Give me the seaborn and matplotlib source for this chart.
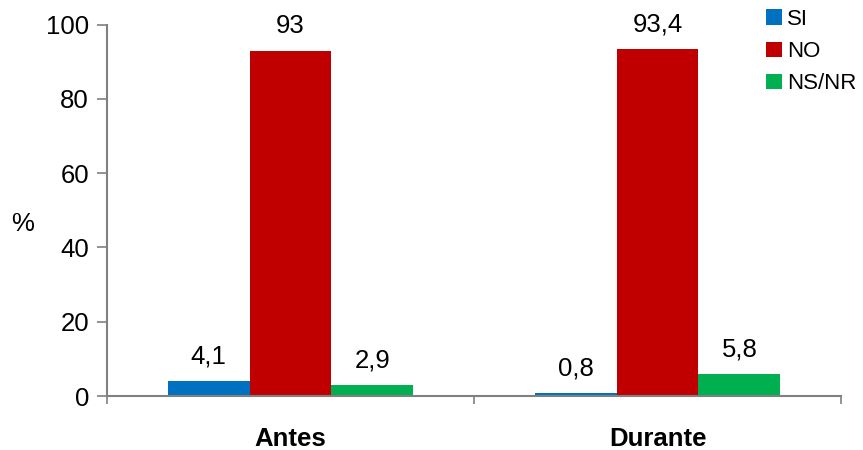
import matplotlib
matplotlib.use("Agg")
import matplotlib.pyplot as plt
import seaborn as sns
import pandas as pd
from matplotlib.patches import Patch
from matplotlib.ticker import FixedLocator

periodos = ["Antes", "Durante"]
respuestas = ["SI", "NO", "NS/NR"]
si = [4.1, 0.8]
no = [93.0, 93.4]
nsnr = [2.9, 5.8]
colores = ["#0070C0", "#C00000", "#00B050"]

rows = []
for serie, vals in zip(respuestas, [si, no, nsnr]):
    for p, v in zip(periodos, vals):
        rows.append({"periodo": p, "respuesta": serie, "valor": v})
df = pd.DataFrame(rows)

sns.set_theme(style="white")
plt.rcParams["font.family"] = ["Liberation Sans", "DejaVu Sans"]
plt.rcParams["text.color"] = "black"
plt.rcParams["xtick.labelcolor"] = "black"
plt.rcParams["ytick.labelcolor"] = "black"
plt.rcParams["axes.labelcolor"] = "black"

fig = plt.figure(figsize=(8.63, 4.5), dpi=100)
ax = fig.add_axes([107 / 863, 1 - 396 / 450, (841 - 107) / 863, (396 - 24.7) / 450])

sns.barplot(data=df, x="periodo", y="valor", hue="respuesta", order=periodos,
            hue_order=respuestas, palette=colores, width=0.67, saturation=1,
            errorbar=None, legend=False, ax=ax, linewidth=0)

for cont in ax.containers:
    for bar in cont:
        v = bar.get_height()
        ax.annotate(f"{v:g}".replace(".", ","),
                    (bar.get_x() + bar.get_width() / 2, v),
                    xytext=(0, 9), textcoords="offset points",
                    ha="center", va="bottom", fontsize=18.5, color="black")

ax.set_xlim(-0.5, 1.5)
ax.set_ylim(0, 100)
ax.set_yticks([0, 20, 40, 60, 80, 100])
ax.tick_params(axis="y", labelsize=18.5, length=7, width=1.2, color="#808080",
               direction="out", left=True, pad=6, labelcolor="black")
ax.tick_params(axis="x", which="major", length=0, labelsize=18.5, pad=22,
               labelcolor="black")
ax.xaxis.set_minor_locator(FixedLocator([-0.5, 0.5, 1.5]))
ax.tick_params(axis="x", which="minor", length=6, width=1.2, color="#808080",
               direction="out", bottom=True)
for lbl in ax.get_xticklabels():
    lbl.set_fontweight("bold")

ax.set_xlabel("")
ax.set_ylabel("%", fontsize=18.5, rotation=0, labelpad=0, color="black")
ax.yaxis.set_label_coords(-0.115, 0.43)

sns.despine(ax=ax)
for s in ["left", "bottom"]:
    ax.spines[s].set_color("#808080")
    ax.spines[s].set_linewidth(1.5)

handles = [Patch(facecolor=c, edgecolor="none", label=r) for c, r in zip(colores, respuestas)]
ax.legend(handles=handles, loc="upper left", bbox_to_anchor=(764 / 863, 0.985),
          bbox_transform=fig.transFigure, frameon=False, fontsize=16,
          handlelength=0.7, handleheight=0.7, handletextpad=0.25,
          labelspacing=0.5, borderaxespad=0, borderpad=0.1, labelcolor="black")

fig.savefig("out.png", dpi=100)
